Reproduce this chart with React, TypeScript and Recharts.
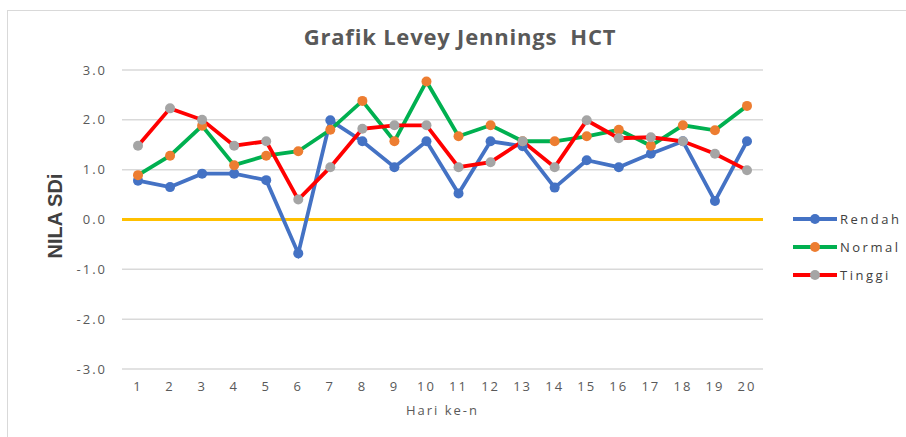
import React from 'react';
import { LineChart, Line, XAxis, YAxis, CartesianGrid, ReferenceLine, Label } from 'recharts';

const days = [1, 2, 3, 4, 5, 6, 7, 8, 9, 10, 11, 12, 13, 14, 15, 16, 17, 18, 19, 20];
const rendah = [0.78, 0.65, 0.92, 0.92, 0.79, -0.68, 1.99, 1.57, 1.05, 1.57, 0.52, 1.57, 1.47, 0.64, 1.19, 1.05, 1.32, 1.57, 0.37, 1.57];
const normal = [0.89, 1.28, 1.88, 1.09, 1.28, 1.37, 1.8, 2.38, 1.57, 2.77, 1.67, 1.89, 1.57, 1.57, 1.67, 1.8, 1.48, 1.89, 1.79, 2.28];
const tinggi = [1.48, 2.23, 2.0, 1.48, 1.57, 0.4, 1.05, 1.82, 1.89, 1.89, 1.05, 1.15, 1.57, 1.05, 1.99, 1.63, 1.65, 1.57, 1.32, 0.99];
const yTicks = [-3, -2, -1, 0, 1, 2, 3];
const title = 'Grafik Levey Jennings  HCT';
const xTitle = 'Hari ke-n';
const yTitle = 'NILA SDi';

const series = [
  { key: 'Rendah', values: rendah, line: '#4472C4', marker: '#4472C4' },
  { key: 'Normal', values: normal, line: '#00B050', marker: '#ED7D31' },
  { key: 'Tinggi', values: tinggi, line: '#FF0000', marker: '#A5A5A5' },
];

const data = days.map((d, i) => ({
  day: String(d),
  Rendah: rendah[i],
  Normal: normal[i],
  Tinggi: tinggi[i],
}));

const tickStyle = { fill: '#595959', fontSize: 13, fontFamily: 'Open Sans', letterSpacing: 2 };

export default function App() {
  return (
    <div style={{ position: 'absolute', left: 0, top: 0, width: 906, height: 437, overflow: 'hidden', background: '#fff' }}>
      <div style={{ position: 'absolute', left: 7, top: 10, width: 920, height: 460, border: '1px solid #D9D9D9' }} />
      <div
        style={{
          position: 'absolute', left: 0, top: 21, width: 920, textAlign: 'center', whiteSpace: 'pre',
          fontFamily: 'Open Sans', fontWeight: 700, fontSize: 22, letterSpacing: 0.8, color: '#595959', lineHeight: '30px',
        }}
      >
        {title}
      </div>
      <div style={{ position: 'absolute', left: 0, top: 0 }}>
        <LineChart width={906} height={437} data={data} margin={{ top: 70, right: 143, bottom: 38, left: 62 }}>
          <CartesianGrid vertical={false} stroke="#D9D9D9" strokeWidth={1.5} />
          <XAxis
            dataKey="day"
            axisLine={false}
            tickLine={false}
            height={30}
            tickMargin={7}
            padding={{ left: 16, right: 16 }}
            tick={tickStyle}
            interval={0}
          >
            <Label value={xTitle} position="bottom" offset={7} style={{ fill: '#595959', fontSize: 13, fontFamily: 'Open Sans', letterSpacing: 2 }} />
          </XAxis>
          <YAxis
            type="number"
            domain={[-3, 3]}
            ticks={yTicks}
            width={60}
            axisLine={false}
            tickLine={false}
            tickMargin={9}
            tick={tickStyle}
            tickFormatter={(v: number) => v.toFixed(1)}
          >
            <Label
              content={() => (
                <text
                  x={55}
                  y={216}
                  transform="rotate(-90 55 216)"
                  textAnchor="middle"
                  dominantBaseline="central"
                  style={{ fill: '#404040', fontSize: 20, fontWeight: 700, fontFamily: 'Liberation Sans' }}
                >
                  {yTitle}
                </text>
              )}
            />
          </YAxis>
          <ReferenceLine y={0} stroke="#FFC000" strokeWidth={3} />
          {series.map((s) => (
            <Line
              key={s.key}
              dataKey={s.key}
              stroke={s.line}
              strokeWidth={3.8}
              dot={{ r: 5, fill: s.marker, stroke: 'none' }}
              activeDot={false}
              isAnimationActive={false}
            />
          ))}
        </LineChart>
      </div>
      <div style={{ position: 'absolute', left: 793, top: 205 }}>
        {series.map((s) => (
          <div key={s.key} style={{ display: 'flex', alignItems: 'center', height: 28 }}>
            <svg width={46} height={12}>
              <line x1={0} y1={6} x2={44} y2={6} stroke={s.line} strokeWidth={3.8} />
              <circle cx={22} cy={6} r={5} fill={s.marker} />
            </svg>
            <span style={{ fontFamily: 'Open Sans', fontSize: 13, letterSpacing: 2.5, color: '#404040', marginLeft: 1 }}>{s.key}</span>
          </div>
        ))}
      </div>
    </div>
  );
}
